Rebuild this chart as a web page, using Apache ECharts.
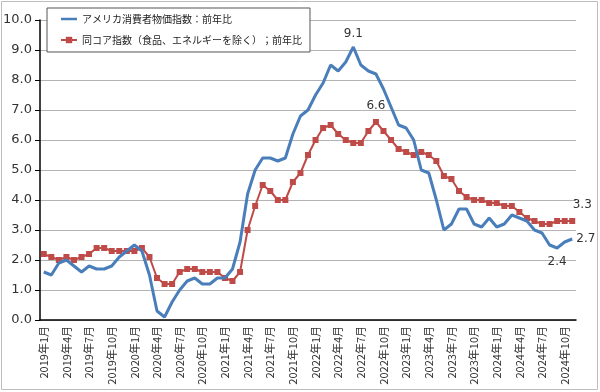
<!DOCTYPE html>
<html><head><meta charset="utf-8">
<script src="https://cdn.jsdelivr.net/npm/echarts@6/dist/echarts.min.js"></script>
<style>html,body{margin:0;padding:0;background:#fff}#c{width:600px;height:392px}</style>
</head><body><div id="c"></div>
<script>
const years = [2019, 2020, 2021, 2022, 2023, 2024];
const months = [];
years.forEach(y => { for (let m = 1; m <= 12; m++) months.push(y + '年' + m + '月'); });
const categories = months.slice(0, 71);
const headlineName = 'アメリカ消費者物価指数：前年比';
const coreName = '同コア指数（食品、エネルギーを除く）；前年比';
const headline = [1.6,1.5,1.9,2.0,1.8,1.6,1.8,1.7,1.7,1.8,2.1,2.3,
  2.5,2.3,1.5,0.3,0.1,0.6,1.0,1.3,1.4,1.2,1.2,1.4,
  1.4,1.7,2.6,4.2,5.0,5.4,5.4,5.3,5.4,6.2,6.8,7.0,
  7.5,7.9,8.5,8.3,8.6,9.1,8.5,8.3,8.2,7.7,7.1,6.5,
  6.4,6.0,5.0,4.9,4.0,3.0,3.2,3.7,3.7,3.2,3.1,3.4,
  3.1,3.2,3.5,3.4,3.3,3.0,2.9,2.5,2.4,2.6,2.7];
const core = [2.2,2.1,2.0,2.1,2.0,2.1,2.2,2.4,2.4,2.3,2.3,2.3,
  2.3,2.4,2.1,1.4,1.2,1.2,1.6,1.7,1.7,1.6,1.6,1.6,
  1.4,1.3,1.6,3.0,3.8,4.5,4.3,4.0,4.0,4.6,4.9,5.5,
  6.0,6.4,6.5,6.2,6.0,5.9,5.9,6.3,6.6,6.3,6.0,5.7,
  5.6,5.5,5.6,5.5,5.3,4.8,4.7,4.3,4.1,4.0,4.0,3.9,
  3.9,3.8,3.8,3.6,3.4,3.3,3.2,3.2,3.3,3.3,3.3];
const headlineLabels = { 41: 'top', 68: 'bottom', 70: 'right' };
const coreLabels = { 44: 'top', 70: 'topRight' };

const numFont = '"DejaVu Sans", Verdana, sans-serif';
const jpFont = '"Noto Sans CJK JP", "DejaVu Sans", sans-serif';

function mk(arr, labels) {
  return arr.map((v, i) => {
    const p = labels[i];
    if (!p) return v;
    let lab = { show: true, formatter: v.toFixed(1), fontFamily: numFont, fontSize: 12, color: '#333' };
    if (p === 'top') Object.assign(lab, { position: 'top', distance: 7 });
    if (p === 'bottom') Object.assign(lab, { position: 'bottom', distance: 8 });
    if (p === 'right') Object.assign(lab, { position: 'right', distance: 4 });
    if (p === 'topRight') Object.assign(lab, { position: 'top', distance: 7, offset: [10, 0] });
    return { value: v, label: lab };
  });
}

const chart = echarts.init(document.getElementById('c'), null, { renderer: 'canvas' });
chart.setOption({
  animation: false,
  backgroundColor: '#fff',
  graphic: [{ type: 'rect', shape: { x: 1.5, y: 1.5, width: 596, height: 388 }, style: { fill: 'none', stroke: '#bdbdbd', lineWidth: 1 }, z: -1 }],
  grid: { left: 40, right: 24, top: 20, bottom: 72 },
  legend: {
    orient: 'vertical', left: 47, top: 8, padding: [6, 8, 7, 13], itemGap: 11,
    borderColor: '#555', borderWidth: 1, backgroundColor: '#fff',
    itemWidth: 16, itemHeight: 8,
    textStyle: { fontFamily: jpFont, fontSize: 10, color: '#222' },
    data: [{ name: headlineName, icon: 'path://M0,3h16v2.5h-16z' }, { name: coreName }]
  },
  xAxis: {
    type: 'category', data: categories, boundaryGap: true,
    axisLine: { lineStyle: { color: '#000', width: 1.5 } },
    axisTick: { interval: 2, length: 5, lineStyle: { color: '#000' } },
    axisLabel: { interval: 2, rotate: 90, fontFamily: jpFont, fontSize: 11, color: '#333', margin: 6 },
    splitLine: { show: false }
  },
  yAxis: {
    type: 'value', min: 0, max: 10, interval: 1,
    axisLine: { show: true, lineStyle: { color: '#000', width: 1.5 } },
    axisTick: { show: true, length: 5, lineStyle: { color: '#000' } },
    axisLabel: { formatter: v => v.toFixed(1), fontFamily: numFont, fontSize: 13, color: '#333', margin: 8 },
    splitLine: { lineStyle: { color: '#b3b3b3', width: 1 } }
  },
  series: [
    { name: headlineName, type: 'line', data: mk(headline, headlineLabels), showSymbol: true, showAllSymbol: true,
      symbol: 'circle', symbolSize: 0.1,
      lineStyle: { color: '#4a7ebb', width: 3 }, itemStyle: { color: '#4a7ebb' }, z: 3 },
    { name: coreName, type: 'line', data: mk(core, coreLabels), symbol: 'rect', symbolSize: 6, showAllSymbol: true,
      lineStyle: { color: '#be4b48', width: 2 }, itemStyle: { color: '#be4b48' }, z: 2 }
  ]
});
</script></body></html>
